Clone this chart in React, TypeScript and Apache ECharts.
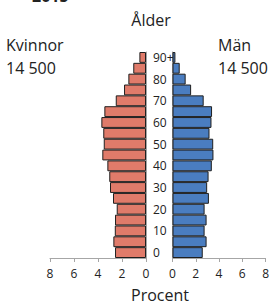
import React, { useEffect, useRef } from "react";
import * as echarts from "echarts";

const ageCategories = ["0", "5", "10", "15", "20", "25", "30", "35", "40", "45", "50", "55", "60", "65", "70", "75", "80", "85", "90+"];
const womenPercent = [2.58, 2.72, 2.6, 2.58, 2.44, 2.75, 3.0, 3.06, 3.22, 3.64, 3.52, 3.56, 3.72, 3.47, 2.52, 1.83, 1.47, 1.06, 0.55];
const menPercent = [2.6, 2.93, 2.76, 2.93, 2.76, 3.13, 2.98, 3.1, 3.38, 3.52, 3.5, 3.18, 3.35, 3.4, 2.68, 1.6, 1.13, 0.62, 0.25];
const xTicks = { min: 0, max: 8, interval: 2 };

const FONT = "'Open Sans', sans-serif";
const AXIS_GRAY = "#A6A6A6";
const TEXT = "#222";

export default function App() {
  const ref = useRef<HTMLDivElement>(null);
  useEffect(() => {
    if (!ref.current) return;
    const chart = echarts.init(ref.current, undefined, { renderer: "svg" });
    const xAxisCommon = {
      type: "value",
      min: xTicks.min,
      max: xTicks.max,
      interval: xTicks.interval,
      splitLine: { show: false },
      axisLine: { show: true, lineStyle: { color: AXIS_GRAY, width: 1 } },
      axisTick: { show: true, length: 4, lineStyle: { color: AXIS_GRAY } },
      axisLabel: { color: TEXT, fontFamily: FONT, fontSize: 12, margin: 9 },
    };
    chart.setOption({
      animation: false,
      textStyle: { fontFamily: FONT },
      grid: [
        { left: 50, right: 126, top: 52, bottom: 48 },
        { left: 172.5, right: 4.5, top: 52, bottom: 48 },
      ],
      xAxis: [
        { ...xAxisCommon, gridIndex: 0, inverse: true },
        { ...xAxisCommon, gridIndex: 1 },
      ],
      yAxis: [
        {
          type: "category",
          gridIndex: 0,
          position: "right",
          data: ageCategories,
          axisLine: { show: true, lineStyle: { color: AXIS_GRAY } },
          axisTick: { show: false },
          axisLabel: {
            interval: 1,
            color: TEXT,
            fontFamily: FONT,
            fontSize: 12,
            align: "left",
            margin: 7,
          },
        },
        {
          type: "category",
          gridIndex: 1,
          position: "left",
          data: ageCategories,
          axisLine: { show: true, lineStyle: { color: AXIS_GRAY } },
          axisTick: { show: false },
          axisLabel: { show: false },
        },
      ],
      series: [
        {
          type: "bar",
          xAxisIndex: 0,
          yAxisIndex: 0,
          data: womenPercent,
          barCategoryGap: "0%",
          itemStyle: { color: "#E07B6A", borderColor: "#1f1f1f", borderWidth: 1 },
        },
        {
          type: "bar",
          xAxisIndex: 1,
          yAxisIndex: 1,
          data: menPercent,
          barCategoryGap: "0%",
          itemStyle: { color: "#4A7DC0", borderColor: "#1f1f1f", borderWidth: 1 },
        },
      ],
      graphic: [
        { type: "text", x: 32, y: 4, style: { text: "2015", font: `bold 16px ${FONT}`, fill: TEXT, align: "left", verticalAlign: "bottom" } },
        { type: "text", x: 151, y: 20, style: { text: "Ålder", font: `16px ${FONT}`, fill: TEXT, align: "center", verticalAlign: "middle" } },
        { type: "text", x: 6, y: 45, style: { text: "Kvinnor", font: `16px ${FONT}`, fill: TEXT, align: "left", verticalAlign: "middle" } },
        { type: "text", x: 6, y: 68, style: { text: "14 500", font: `16px ${FONT}`, fill: TEXT, align: "left", verticalAlign: "middle" } },
        { type: "text", x: 218, y: 45, style: { text: "Män", font: `16px ${FONT}`, fill: TEXT, align: "left", verticalAlign: "middle" } },
        { type: "text", x: 218, y: 68, style: { text: "14 500", font: `16px ${FONT}`, fill: TEXT, align: "left", verticalAlign: "middle" } },
        { type: "text", x: 160, y: 295, style: { text: "Procent", font: `16px ${FONT}`, fill: TEXT, align: "center", verticalAlign: "middle" } },
      ],
    });
    return () => chart.dispose();
  }, []);
  return <div ref={ref} style={{ position: "fixed", left: 0, top: 0, width: 272, height: 306, background: "#fff" }} />;
}
